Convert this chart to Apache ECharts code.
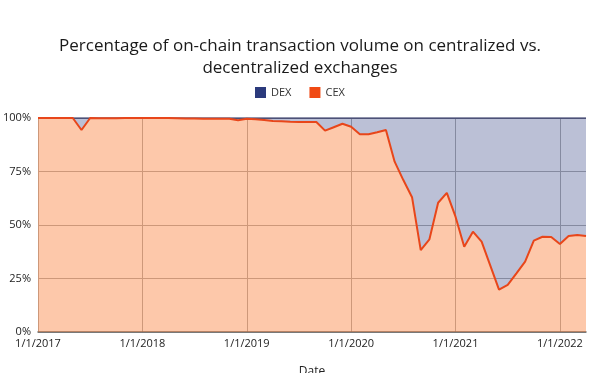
<!DOCTYPE html>
<html><head><meta charset="utf-8">
<script src="https://cdn.jsdelivr.net/npm/echarts@6/dist/echarts.min.js"></script>
<style>html,body{margin:0;padding:0;background:#fff}#c{width:600px;height:373px}</style>
</head><body><div id="c"></div>
<script>
var months = [
 '2017-01','2017-02','2017-03','2017-04','2017-05','2017-06','2017-07','2017-08','2017-09','2017-10','2017-11','2017-12',
 '2018-01','2018-02','2018-03','2018-04','2018-05','2018-06','2018-07','2018-08','2018-09','2018-10','2018-11','2018-12',
 '2019-01','2019-02','2019-03','2019-04','2019-05','2019-06','2019-07','2019-08','2019-09','2019-10','2019-11','2019-12',
 '2020-01','2020-02','2020-03','2020-04','2020-05','2020-06','2020-07','2020-08','2020-09','2020-10','2020-11','2020-12',
 '2021-01','2021-02','2021-03','2021-04','2021-05','2021-06','2021-07','2021-08','2021-09','2021-10','2021-11','2021-12',
 '2022-01','2022-02','2022-03','2022-04'
];
var cexShare = [
 100,100,100,100,100,94.4,100,99.9,99.9,99.9,100,100,
 100,100,100,100,99.9,99.8,99.8,99.7,99.7,99.6,99.6,98.9,
 99.6,99.4,99.1,98.6,98.5,98.2,98.1,98.1,98.1,94.1,95.7,97.3,
 95.9,92.4,92.4,93.3,94.4,79.6,71.0,63.0,38.3,43.3,60.4,65.0,
 53.9,39.8,46.9,42.2,31.0,19.8,22.0,27.4,32.9,42.7,44.5,44.4,
 41.1,44.9,45.3,44.9
];
var dexShare = [
 0,0,0,0,0,5.6,0,0.1,0.1,0.1,0,0,
 0,0,0,0,0.1,0.2,0.2,0.3,0.3,0.4,0.4,1.1,
 0.4,0.6,0.9,1.4,1.5,1.8,1.9,1.9,1.9,5.9,4.3,2.7,
 4.1,7.6,7.6,6.7,5.6,20.4,29.0,37.0,61.7,56.7,39.6,35.0,
 46.1,60.2,53.1,57.8,69.0,80.2,78.0,72.6,67.1,57.3,55.5,55.6,
 58.9,55.1,54.7,55.1
];
var yTicks = [0, 25, 50, 75, 100];

var isYearStart = function (i, v) { return /-01$/.test(v); };
var chart = echarts.init(document.getElementById('c'), null, {renderer: 'canvas'});
chart.setOption({
  animation: false,
  backgroundColor: '#ffffff',
  title: {
    text: 'Percentage of on-chain transaction volume on centralized vs.\ndecentralized exchanges',
    left: 'center', top: 30,
    textStyle: {fontFamily: 'Open Sans', fontSize: 17, fontWeight: 'normal', color: '#1a1a1a', lineHeight: 22}
  },
  legend: {
    top: 82, left: 250, itemWidth: 11, itemHeight: 11, itemGap: 18,
    icon: 'rect',
    textStyle: {fontFamily: 'Open Sans', fontSize: 11, color: '#333'},
    data: ['DEX', 'CEX']
  },
  grid: {left: 38, right: 14, top: 118, bottom: 41, containLabel: false, outerBoundsMode: 'none'},
  xAxis: {
    type: 'category', data: months, boundaryGap: false,
    name: 'Date', nameLocation: 'middle', nameGap: 34,
    nameTextStyle: {fontFamily: 'Open Sans', fontSize: 12, color: '#222'},
    axisLine: {lineStyle: {color: '#666', width: 1.5}},
    axisTick: {show: false},
    axisLabel: {interval: isYearStart, formatter: function (v) { return '1/1/' + v.slice(0, 4); },
      fontFamily: 'Open Sans', fontSize: 11, color: '#222', margin: 6},
    splitLine: {show: true, interval: isYearStart, lineStyle: {color: '#b0b0b0', width: 1}}
  },
  yAxis: {
    type: 'value', min: yTicks[0], max: yTicks[yTicks.length - 1], interval: 25,
    axisLine: {show: false}, axisTick: {show: false},
    axisLabel: {formatter: '{value}%', fontFamily: 'Open Sans', fontSize: 11, color: '#222', margin: 7},
    splitLine: {lineStyle: {color: '#b0b0b0', width: 1}}
  },
  series: [
    {
      name: 'CEX', type: 'line', stack: 'total', data: cexShare, symbol: 'none',
      itemStyle: {color: '#f04a14'},
      lineStyle: {color: '#e8461a', width: 2},
      areaStyle: {color: '#fa762a', opacity: 0.4},
      z: 3
    },
    {
      name: 'DEX', type: 'line', stack: 'total', data: dexShare, symbol: 'none',
      itemStyle: {color: '#2b3a7c'},
      lineStyle: {color: '#3a3f6a', width: 1.5},
      areaStyle: {color: '#2b3a80', opacity: 0.32},
      z: 2
    }
  ]
});
</script></body></html>
